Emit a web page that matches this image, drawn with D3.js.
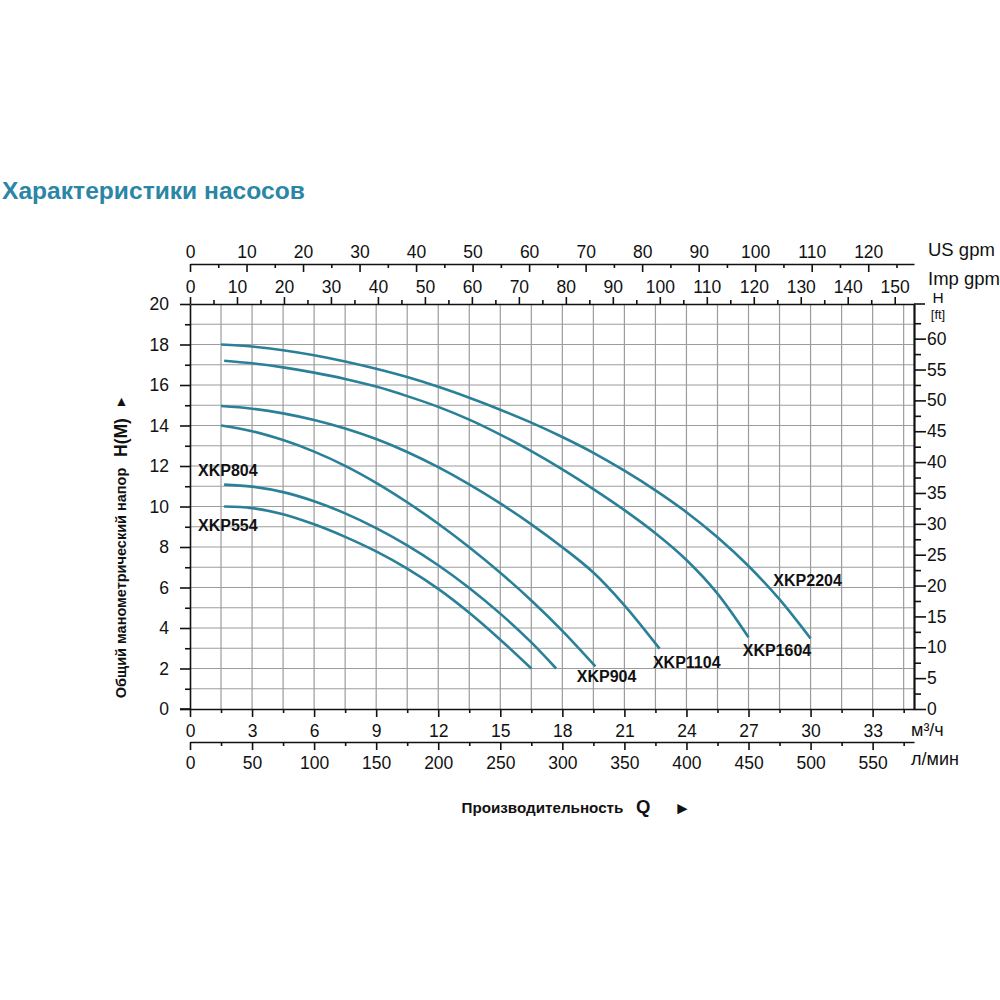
<!DOCTYPE html>
<html>
<head>
<meta charset="utf-8">
<script src="https://cdn.jsdelivr.net/npm/d3@7"></script>
<style>
body{margin:0;background:#fff}
svg{display:block}
text{font-family:"Liberation Sans",Arial,sans-serif;fill:#111}
</style>
</head>
<body>
<svg id="chart" width="1000" height="1000"></svg>
<script>
// ---------- data ----------
const titleText = "Характеристики насосов";
const m3hTicks = [0,3,6,9,12,15,18,21,24,27,30,33];
const lminTicks = [0,50,100,150,200,250,300,350,400,450,500,550];
const usGpmTicks = [0,10,20,30,40,50,60,70,80,90,100,110,120];
const impGpmTicks = [0,10,20,30,40,50,60,70,80,90,100,110,120,130,140,150];
const headTicks = [0,2,4,6,8,10,12,14,16,18,20];
const ftTicks = [0,5,10,15,20,25,30,35,40,45,50,55,60];

const models = ["XKP2204","XKP1604","XKP1104","XKP904","XKP804","XKP554"];
// [Q m³/h, H m]
const xkp2204 = [[1.5,18.0],[3,17.9],[4.5,17.72],[6,17.47],[7.5,17.16],[9,16.8],[10.5,16.39],[12,15.91],[13.5,15.37],[15,14.78],[16.5,14.14],[18,13.43],[19.5,12.65],[21,11.77],[22.5,10.8],[24,9.72],[25.5,8.48],[27,7.06],[28.5,5.41],[30,3.48]];
const xkp1604 = [[1.65,17.2],[3,17.07],[4.5,16.87],[6,16.61],[7.5,16.3],[9,15.92],[10.5,15.45],[12,14.92],[13.5,14.29],[15,13.55],[16.5,12.73],[18,11.83],[19.5,10.86],[21,9.82],[22.5,8.68],[24,7.36],[25.5,5.7],[27,3.54]];
const xkp1104 = [[1.5,14.96],[3,14.83],[4.5,14.6],[6,14.27],[7.5,13.85],[9,13.33],[10.5,12.69],[12,11.94],[13.5,11.09],[15,10.15],[16.5,9.12],[18,7.99],[19.5,6.74],[21,5.12],[22.7,2.98]];
const xkp904 = [[1.5,14.0],[3,13.72],[4.5,13.28],[6,12.71],[7.5,12.01],[9,11.17],[10.5,10.21],[12,9.15],[13.5,7.99],[15,6.73],[16.5,5.36],[18,3.86],[19.6,2.1]];
const xkp804 = [[1.65,11.08],[3,10.98],[4.5,10.71],[6,10.26],[7.5,9.66],[9,8.93],[10.5,8.08],[12,7.1],[13.5,5.98],[15,4.71],[16.5,3.29],[17.7,2.0]];
const xkp554 = [[1.65,10.0],[3,9.92],[4.5,9.62],[6,9.12],[7.5,8.5],[9,7.78],[10.5,6.93],[12,5.93],[13.5,4.75],[15,3.42],[16.5,2.0]];
const seriesData = [xkp2204,xkp1604,xkp1104,xkp904,xkp804,xkp554];
// label anchors (Q m³/h, H m) – left edge / vertical centre of text
const labelAnchors = [[28.2,6.37],[26.72,2.91],[22.38,2.31],[18.7,1.6],[0.39,11.8],[0.39,9.09]];

// unit conversions
const M3H_TO_USGPM_AXIS = 3.66;   // top axis (labelled "US gpm")
const M3H_TO_IMPGPM_AXIS = 4.403; // second axis (labelled "Imp gpm")
const M3H_TO_LMIN = 1000/60;
const M_TO_FT = 3.2808;

// ---------- layout ----------
const L = 190, R = 914, T = 304, B = 709;
const Qmax = 35, Hmax = 20;
const svg = d3.select("#chart");
const x = d3.scaleLinear().domain([0,Qmax]).range([L,R]);
const y = d3.scaleLinear().domain([0,Hmax]).range([B,T]);
const xUS = d3.scaleLinear().domain([0,Qmax*M3H_TO_USGPM_AXIS]).range([L,R]);
const xImp = d3.scaleLinear().domain([0,Qmax*M3H_TO_IMPGPM_AXIS]).range([L,R]);
const xL = d3.scaleLinear().domain([0,Qmax*M3H_TO_LMIN]).range([L,R]);
const yFt = d3.scaleLinear().domain([0,Hmax*M_TO_FT]).range([B,T]);

const FS = 17.5;
const gridColor = "#9c9c9c";
const curveColor = "#2a8098";

// title
svg.append("text").attr("x",2).attr("y",190).attr("dy","0.35em")
  .style("font-size","24.6px").style("font-weight","bold").style("fill","#2b86a6")
  .text(titleText);

// grid
const g = svg.append("g");
g.selectAll("line.v").data(d3.range(1,24).map(k=>k*1.5)).join("line")
  .attr("x1",d=>x(d)).attr("x2",d=>x(d)).attr("y1",T).attr("y2",B)
  .attr("stroke",gridColor).attr("stroke-width",1.2);
g.selectAll("line.h").data(d3.range(1,20)).join("line")
  .attr("x1",L).attr("x2",R).attr("y1",d=>y(d)).attr("y2",d=>y(d))
  .attr("stroke",gridColor).attr("stroke-width",1.2);

function styleAxis(sel, opts){
  sel.selectAll("path.domain").attr("stroke","#111").attr("stroke-width",1.6);
  sel.selectAll(".tick line").attr("stroke","#111").attr("stroke-width",1.6);
  sel.selectAll("text").style("font-size",FS+"px").style("font-family",'"Liberation Sans",Arial,sans-serif').attr("fill","#111");
  if(opts && opts.noDomain) sel.selectAll("path.domain").remove();
}
const fmt = d3.format("d");

// --- top axis 1 (US gpm) at y=264, ticks down, labels above
const gUS = svg.append("g").attr("transform","translate(0,264)")
  .call(d3.axisTop(xUS).tickValues(usGpmTicks).tickSizeInner(-8).tickSizeOuter(0).tickFormat(fmt));
styleAxis(gUS);
gUS.selectAll("text").attr("y",-12.5).attr("dy","0.35em");
const gUSm = svg.append("g").attr("transform","translate(0,264)")
  .call(d3.axisTop(xUS).tickValues(d3.range(5,128,10)).tickSizeInner(-4).tickSizeOuter(0).tickFormat(""));
styleAxis(gUSm,{noDomain:true});

// --- top axis 2 (Imp gpm) at plot top, ticks up
const gImp = svg.append("g").attr("transform",`translate(0,${T})`)
  .call(d3.axisTop(xImp).tickValues(impGpmTicks).tickSizeInner(7).tickSizeOuter(0).tickFormat(fmt));
styleAxis(gImp);
gImp.selectAll("text").attr("y",-17.5).attr("dy","0.35em");
const gImpm = svg.append("g").attr("transform",`translate(0,${T})`)
  .call(d3.axisTop(xImp).tickValues(d3.range(5,154,10)).tickSizeInner(4).tickSizeOuter(0).tickFormat(""));
styleAxis(gImpm,{noDomain:true});

// --- bottom axis 1 (m³/h)
const gM = svg.append("g").attr("transform",`translate(0,${B})`)
  .call(d3.axisBottom(x).tickValues(m3hTicks).tickSizeInner(8).tickSizeOuter(0).tickFormat(fmt));
styleAxis(gM);
gM.selectAll("text").attr("y",21.5).attr("dy","0.35em");
const gMm = svg.append("g").attr("transform",`translate(0,${B})`)
  .call(d3.axisBottom(x).tickValues(d3.range(1.5,35,3)).tickSizeInner(4).tickSizeOuter(0).tickFormat(""));
styleAxis(gMm,{noDomain:true});

// --- bottom axis 2 (l/min)
const gLm = svg.append("g").attr("transform","translate(0,742)")
  .call(d3.axisBottom(xL).tickValues(lminTicks).tickSizeInner(8).tickSizeOuter(0).tickFormat(fmt));
styleAxis(gLm);
gLm.selectAll("text").attr("y",20.5).attr("dy","0.35em");
const gLmm = svg.append("g").attr("transform","translate(0,742)")
  .call(d3.axisBottom(xL).tickValues(d3.range(25,583,50)).tickSizeInner(4).tickSizeOuter(0).tickFormat(""));
styleAxis(gLmm,{noDomain:true});

// --- left axis (H m)
const gH = svg.append("g").attr("transform",`translate(${L},0)`)
  .call(d3.axisLeft(y).tickValues(headTicks).tickSizeInner(10).tickSizeOuter(0).tickPadding(11).tickFormat(fmt));
styleAxis(gH);
const gHm = svg.append("g").attr("transform",`translate(${L},0)`)
  .call(d3.axisLeft(y).tickValues(d3.range(1,20,2)).tickSizeInner(5).tickSizeOuter(0).tickFormat(""));
styleAxis(gHm,{noDomain:true});

// --- right axis (ft)
const gF = svg.append("g").attr("transform",`translate(${R},0)`)
  .call(d3.axisRight(yFt).tickValues(ftTicks).tickSizeInner(12).tickSizeOuter(0).tickPadding(1).tickFormat(fmt));
styleAxis(gF);
gF.selectAll("path.domain").attr("stroke-width",2.2);
const gFm = svg.append("g").attr("transform",`translate(${R},0)`)
  .call(d3.axisRight(yFt).tickValues(d3.range(2.5,65,5)).tickSizeInner(7).tickSizeOuter(0).tickFormat(""));
styleAxis(gFm,{noDomain:true});

// extend bottom line & top line slightly
svg.append("line").attr("x1",180).attr("x2",L).attr("y1",B).attr("y2",B).attr("stroke","#111").attr("stroke-width",1.6);
svg.append("line").attr("x1",R).attr("x2",925).attr("y1",T).attr("y2",T).attr("stroke","#111").attr("stroke-width",1.6);

// unit labels
const unit = (tx,ty,t,fs,anchor)=>svg.append("text").attr("x",tx).attr("y",ty).attr("dy","0.35em")
   .attr("text-anchor",anchor||"start").style("font-size",fs+"px").text(t);
unit(928,250,"US gpm",18.5);
unit(928,279,"Imp gpm",18.5);
unit(938,298,"H",15.5,"middle");
unit(938,314,"[ft]",13,"middle");
unit(911,730,"м³/ч",18);
unit(911,759,"л/мин",18);

// curves
const line = d3.line().x(d=>x(d[0])).y(d=>y(d[1])).curve(d3.curveCatmullRom.alpha(0.5));
svg.append("g").selectAll("path").data(seriesData).join("path")
  .attr("d",line).attr("fill","none").attr("stroke",curveColor).attr("stroke-width",2.6);

// curve labels
svg.append("g").selectAll("text").data(models).join("text")
  .attr("x",(d,i)=>x(labelAnchors[i][0])).attr("y",(d,i)=>y(labelAnchors[i][1])).attr("dy","0.35em")
  .style("font-size","16px").style("font-weight","bold").text(d=>d);

// y-axis title
svg.append("text").attr("transform","translate(121,583) rotate(-90)").attr("dy","0.35em")
  .attr("text-anchor","middle").style("font-size","14.5px").style("font-weight","bold")
  .text("Общий манометрический напор");
svg.append("text").attr("transform","translate(121,437.5) rotate(-90)").attr("dy","0.35em")
  .attr("text-anchor","middle").style("font-size","17.5px").style("font-weight","bold")
  .text("H(M)");
svg.append("text").attr("x",121.5).attr("y",401).attr("dy","0.35em")
  .attr("text-anchor","middle").style("font-size","14px").text("▲");

// x-axis title
svg.append("text").attr("x",461.5).attr("y",808).attr("dy","0.35em")
  .style("font-size","15.2px").style("font-weight","bold").text("Производительность");
svg.append("text").attr("x",636).attr("y",807).attr("dy","0.35em")
  .style("font-size","18.5px").style("font-weight","bold").text("Q");
svg.append("text").attr("x",674).attr("y",808).attr("dy","0.35em")
  .style("font-size","17px").text("►");
</script>
</body>
</html>
